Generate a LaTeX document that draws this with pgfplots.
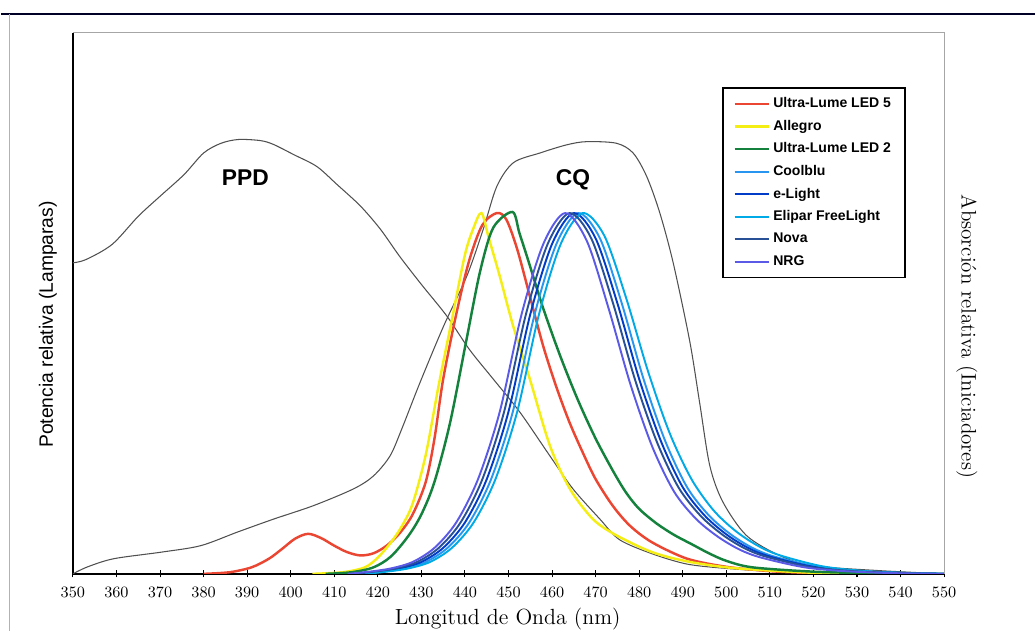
\documentclass[border=0pt]{standalone}
\usepackage{fontspec}
\usepackage{pgfplots}
\pgfplotsset{compat=1.18}
\newfontfamily\arial{Liberation Sans}

\definecolor{ledred}{RGB}{235,70,50}
\definecolor{ledyellow}{RGB}{245,238,20}
\definecolor{ledgreen}{RGB}{20,130,60}
\definecolor{coolblu}{RGB}{40,150,240}
\definecolor{elight}{RGB}{0,60,200}
\definecolor{elipar}{RGB}{0,170,230}
\definecolor{nova}{RGB}{40,80,150}
\definecolor{nrg}{RGB}{90,90,230}
\definecolor{curvegray}{RGB}{80,80,80}

\begin{document}
\begin{tikzpicture}
\begin{axis}[
    at={(0,0)}, anchor=south west,
    scale only axis,
    width=17.46cm, height=10.84cm,
    xmin=350, xmax=550, ymin=0, ymax=100,
    clip mode=individual,
    axis lines*=left,
    axis line style={black, line width=0.8pt},
    xtick={350,360,...,550},
    ytick=\empty,
    tick align=center,
    major tick length=4pt,
    tick style={black, line width=0.6pt},
    xticklabel style={font=\fontsize{9}{10}\selectfont, yshift=-2pt},
    legend style={at={(0.745,0.90)}, anchor=north west, draw=black, line width=1pt,
        font=\arial\bfseries\fontsize{8}{9}\selectfont, row sep=1.6pt,
        inner xsep=6pt, inner ysep=3.5pt},
    legend cell align=left,
    legend image code/.code={\draw[#1] (0cm,0cm) -- (0.68cm,0cm);},
    every axis plot/.append style={smooth},
]
% PPD (absorcion)
\addplot[curvegray, line width=0.6pt, forget plot] coordinates {
(350,57.5)(353,58.1)(359,60.9)(365,66.1)(370,69.8)(375.5,73.8)(380,77.8)(384,79.6)
(388,80.3)(393,80.1)(396,79.4)(400.7,77.5)(406,75.3)(410.6,72)(416,68)(420.6,63.7)
(425,58.7)(430,53.5)(435.8,47.7)(441,41.5)(446.5,36)(452.6,29.9)(459.5,21.8)
(464.8,15.7)(471,10.1)(475.5,6.3)(483,3.7)(491,1.8)(500,1)(510,0.5)(520,0.3)
(535,0.1)(550,0)};
% CQ (absorcion)
\addplot[curvegray, line width=0.6pt, forget plot] coordinates {
(350,0)(353.4,1.3)(359.4,2.8)(370.2,4)(379.3,5.2)(387.7,7.7)(396,10.1)(405.2,12.6)
(414.4,15.7)(419,18.1)(422.8,21.8)(425.5,26.8)(429.7,35.4)(435.1,45.8)(440.4,55)
(444.2,63.7)(447.3,71.6)(451.1,76)(457.2,77.8)(463.3,79.3)(467.9,79.9)(474.8,79.6)
(478.6,77.8)(481.7,73.5)(484.7,66.8)(487.8,57.5)(491.6,43)(493.9,31.5)(496.2,20)
(499.2,13.3)(504.6,7.1)(512.2,3.4)(519.8,1.5)(535,0.6)(550,0)};
% Ultra-Lume LED 5
\addplot[ledred, line width=1.4pt] coordinates {
(380,0)(386,0.3)(391,1.2)(395,2.8)(398,4.6)(401,6.5)(404,7.4)(407,6.6)(410,5.2)
(413,4)(416,3.4)(419,3.8)(422,5.2)(425,7.5)(428,11)(431,17)(433,25)(435,36)
(438,48)(441,58)(444,64.5)(447.3,66.7)(449.5,65.5)(452,60)(455,51)(458,42)
(461,34.5)(464,28)(467,22.5)(470,17.5)(474,12.5)(478,8.8)(483,5.8)(491,2.8)
(500,1.3)(510,0.5)(520,0.15)(535,0)};
\addlegendentry{Ultra-Lume LED 5}
% Allegro
\addplot[ledyellow, line width=1.4pt] coordinates {
(405,0)(412,0.3)(417,1.2)(420,3)(423,5.8)(425.5,8.8)(428,13)(431,22)(434,35)
(437,47)(440,59)(442,64)(443.8,66.7)(445.5,62)(448,55)(451,46)(454.9,36)
(459.5,23.7)(464.1,15.7)(469.4,10.1)(474.8,7.1)(483,4)(491,2.3)(500,1.2)(510,0.6)
(520,0.2)(530,0)};
\addlegendentry{Allegro}
% Ultra-Lume LED 2
\addplot[ledgreen, line width=1.4pt] coordinates {
(408,0)(414,0.3)(419,1.2)(423,3.2)(427,7)(430,11)(433,17)(436.6,28)(440.4,43.5)
(443.5,56)(446.5,64)(450.9,66.9)(452.5,63)(454.5,58)(458,49)(462,40)(466,32)
(470,25)(474,19)(477,15)(480,12)(484,9.3)(488,7.2)(492,5.5)(496,3.8)(500,2.4)
(506,1.2)(520,0.4)(535,0.1)(550,0)};
\addlegendentry{Ultra-Lume LED 2}
% Coolblu
\addplot[coolblu, line width=1.1pt] coordinates {
(416,0)(421,0.4)(426,1)(431,2.2)(436,4.8)(441,9.5)(446,17.5)(451,30)(456,48)
(461,61)(466,66.7)(471,62)(476,50)(481,36)(486,24.5)(491,16)(496,10.8)(501,7.3)
(506,4.8)(511,3.2)(521,1.3)(531,0.5)(541,0.15)(550,0)};
\addlegendentry{Coolblu}
% e-Light
\addplot[elight, line width=1.1pt] coordinates {
(415,0)(420,0.4)(425,1)(430,2.2)(435,4.8)(440,9.5)(445,17.5)(450,30)(455,48)
(460,61)(465,66.7)(470,62)(475,50)(480,36)(485,24.5)(490,16)(495,10.8)(500,7.3)
(505,4.8)(510,3.2)(520,1.3)(530,0.5)(540,0.15)(550,0)};
\addlegendentry{e-Light}
% Elipar FreeLight
\addplot[elipar, line width=1.1pt] coordinates {
(417,0)(422,0.4)(427,1)(432,2.2)(437,4.8)(442,9.5)(447,17.5)(452,30)(457,48)
(462,61)(467,66.7)(472,62.5)(477,51)(482,37.5)(487,26)(492,17.5)(497,11.8)(502,8)
(507,5.3)(512,3.5)(522,1.4)(532,0.5)(542,0.15)(550,0)};
\addlegendentry{Elipar FreeLight}
% Nova
\addplot[nova, line width=1.1pt] coordinates {
(414,0)(419,0.4)(424,1)(429,2.2)(434,4.8)(439,9.5)(444,17.5)(449,30)(454,48)
(459,61)(464,66.7)(469,62)(474,50)(479,36)(484,24.5)(489,16)(494,10.8)(499,7.3)
(504,4.8)(509,3.2)(519,1.3)(529,0.5)(540,0.15)(550,0)};
\addlegendentry{Nova}
% NRG
\addplot[nrg, line width=1.1pt] coordinates {
(413,0)(418,0.4)(423,1)(428,2.2)(433,4.8)(438,9.5)(443,17.5)(448,30)(453,48)
(458,61)(463,66.7)(468,61.5)(473,49)(478,35)(483,23.5)(488,15.2)(493,10.2)(498,6.9)
(503,4.5)(508,3)(518,1.2)(528,0.45)(540,0.1)(550,0)};
\addlegendentry{NRG}

\draw[gray!70, line width=0.5pt] (rel axis cs:0,1) -- (rel axis cs:1,1) -- (rel axis cs:1,0);
\node[font=\arial\bfseries\fontsize{13}{14}\selectfont] at (axis cs:389.6,73.2) {PPD};
\node[font=\arial\bfseries\fontsize{13}{14}\selectfont] at (axis cs:464.8,72.9) {CQ};
\node[rotate=90, font=\arial\fontsize{11}{12}\selectfont] at (axis description cs:-0.0286,0.461) {Potencia relativa (Lamparas)};
\node[rotate=-90, font=\fontsize{12}{13}\selectfont] at (axis description cs:1.026,0.439) {Absorción relativa (Iniciadores)};
\node[font=\fontsize{12.5}{13}\selectfont] at (axis description cs:0.499,-0.083) {Longitud de Onda (nm)};
\end{axis}
% outer frame of the scanned figure
\draw[black!85!blue, line width=1.2pt] (-1.44,11.22) -- (19.28,11.22);
\draw[gray!60, line width=0.6pt] (-1.28,-1.14) -- (-1.28,11.22);
\useasboundingbox (-1.44,-1.14) rectangle (19.28,11.5);
\end{tikzpicture}
\end{document}
